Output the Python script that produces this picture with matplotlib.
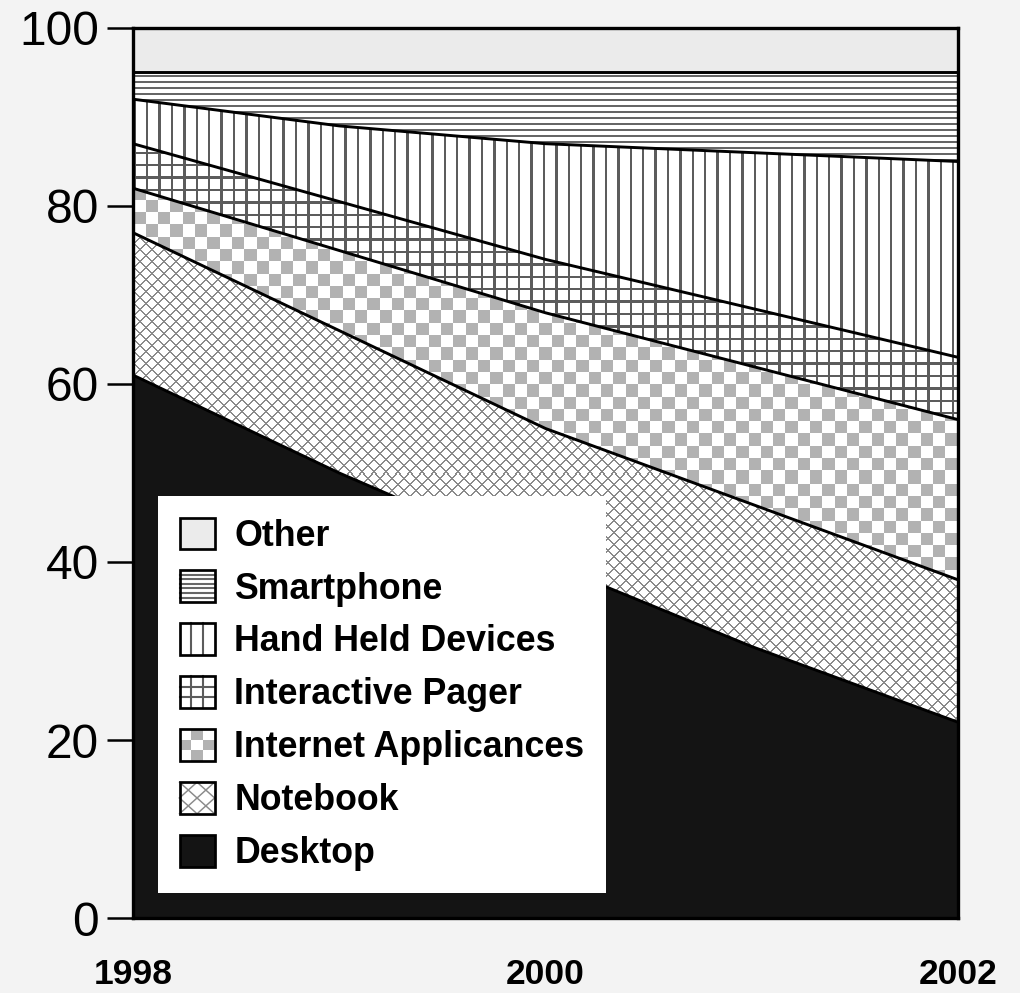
import numpy as np
import matplotlib
matplotlib.use('Agg')
import matplotlib.pyplot as plt
from matplotlib.patches import Patch, Rectangle
from matplotlib.lines import Line2D
from matplotlib.legend_handler import HandlerBase

plt.rcParams['font.family'] = ['Liberation Sans', 'DejaVu Sans']

# data (percent share)
years = [1998, 1999, 2000, 2001, 2002]
desktop = [61, 50, 40, 30.5, 22]
notebook = [16, 16, 15, 16, 16]
internet = [5, 9, 13, 15.5, 18]
pager = [5, 5.5, 6, 6.5, 7]
handheld = [5, 8.5, 13, 17.5, 22]
smartphone = [3, 6, 8, 9, 10]
other = [5, 5, 5, 5, 5]

labels = ['Desktop', 'Notebook', 'Internet Applicances', 'Interactive Pager',
          'Hand Held Devices', 'Smartphone', 'Other']
series = [desktop, notebook, internet, pager, handheld, smartphone, other]

# fill style per layer: (kind, colour)
styles = [
    ('solid', '#141414'),
    ('diag', '#8a8a8a'),
    ('checker', '#b2b2b2'),
    ('grid', '#5c5c5c'),
    ('vlines', '#5c5c5c'),
    ('hlines', '#666666'),
    ('solid', '#ebebeb'),
]

W, H = 1020, 993
fig = plt.figure(figsize=(W / 150, H / 150), dpi=150, facecolor='#f3f3f3')
ax = fig.add_axes([133 / W, 75 / H, 825 / W, 890 / H])
ax.set_facecolor('white')

# pixel grid of the axes area, used for the fill textures
py, px = np.mgrid[0:890, 0:825]


def texture(kind):
    if kind == 'hlines':
        return (py % 6) < 2
    if kind == 'vlines':
        return (px % 12.4) < 2.4
    if kind == 'grid':
        return ((px % 12.4) < 2.4) | ((py % 12.4) < 2.4)
    if kind == 'diag':
        return ((px + py) % 12 < 1.5) | ((px - py) % 12 < 1.5)
    if kind == 'checker':
        return ((px // 12.3 + py // 12.3) % 2) == 1


tops = np.cumsum(series, axis=0)
bottoms = tops - np.array(series)

for i, (kind, col) in enumerate(styles):
    if kind == 'solid':
        ax.fill_between(years, bottoms[i], tops[i], facecolor=col,
                        linewidth=0, zorder=1)
        continue
    coll = ax.fill_between(years, bottoms[i], tops[i], facecolor='white',
                           linewidth=0, zorder=1)
    rgba = np.ones((890, 825, 4))
    rgba[texture(kind), :3] = matplotlib.colors.to_rgb(col)
    im = ax.imshow(rgba, extent=(years[0], years[-1], 0, 100), origin='upper',
                   interpolation='nearest', aspect='auto', zorder=1.2)
    im.set_clip_path(coll.get_paths()[0], ax.transData)

# black boundary lines between layers
for i in range(len(series) - 1):
    ax.plot(years, tops[i], color='black', lw=1.4, zorder=2)


class PatternHandler(HandlerBase):
    def __init__(self, kind, color):
        super().__init__()
        self.kind = kind
        self.color = color

    def create_artists(self, legend, orig_handle, xdescent, ydescent,
                       width, height, fontsize, trans):
        x0, y0, w, h = -xdescent, -ydescent, width, height
        fc = self.color if self.kind == 'solid' else 'white'
        arts = [Rectangle((x0, y0), w, h, facecolor=fc, edgecolor='none',
                          transform=trans)]
        kw = dict(color=self.color, lw=1.0, transform=trans)
        if self.kind == 'hlines':
            for k in range(1, 7):
                yy = y0 + h * k / 7
                arts.append(Line2D([x0, x0 + w], [yy, yy], **kw))
        if self.kind in ('vlines', 'grid'):
            for k in (1, 2):
                xx = x0 + w * k / 3
                arts.append(Line2D([xx, xx], [y0, y0 + h], **kw))
        if self.kind == 'grid':
            for k in (1, 2):
                yy = y0 + h * k / 3
                arts.append(Line2D([x0, x0 + w], [yy, yy], **kw))
        if self.kind == 'diag':
            kw['lw'] = 0.7
            arts.append(Line2D([x0, x0 + w], [y0, y0 + h], **kw))
            arts.append(Line2D([x0, x0 + w], [y0 + h, y0], **kw))
            arts.append(Line2D([x0, x0 + w / 2, x0 + w, x0 + w / 2, x0],
                               [y0 + h / 2, y0 + h, y0 + h / 2, y0, y0 + h / 2], **kw))
        if self.kind == 'checker':
            n = 3
            for a in range(n):
                for b in range(n):
                    if (a + b) % 2:
                        arts.append(Rectangle((x0 + a * w / n, y0 + b * h / n),
                                              w / n, h / n, facecolor=self.color,
                                              edgecolor='none', transform=trans))
        arts.append(Rectangle((x0, y0), w, h, fill=False, edgecolor='black',
                              lw=1.3, transform=trans))
        return arts


handles = []
handler_map = {}
for kind, col in styles:
    hd = Patch()
    handler_map[hd] = PatternHandler(kind, col)
    handles.append(hd)

leg = ax.legend(handles[::-1], labels[::-1], handler_map=handler_map,
                loc='upper left', bbox_to_anchor=(158 / W, 1 - 496 / H),
                bbox_transform=fig.transFigure, borderaxespad=0,
                frameon=True, fancybox=False, framealpha=1, edgecolor='none',
                facecolor='white', prop={'weight': 'bold', 'size': 17.2},
                handlelength=0.98, handleheight=0.98, handletextpad=0.55,
                labelspacing=0.47, borderpad=0.6)
leg.set_zorder(5)

ax.set_xlim(years[0], years[-1])
ax.set_ylim(0, 100)
ax.set_yticks([0, 20, 40, 60, 80, 100])
ax.set_xticks([1998, 2000, 2002])
ax.set_xticklabels(['1998', '2000', '2002'], fontweight='bold')
ax.tick_params(axis='y', length=12.5, width=1.2, pad=3.8, labelsize=23)
ax.tick_params(axis='x', length=0, pad=19, labelsize=17)
for s in ax.spines.values():
    s.set_linewidth(1.6)
    s.set_zorder(6)

fig.savefig('out.png', dpi=150, facecolor=fig.get_facecolor())
